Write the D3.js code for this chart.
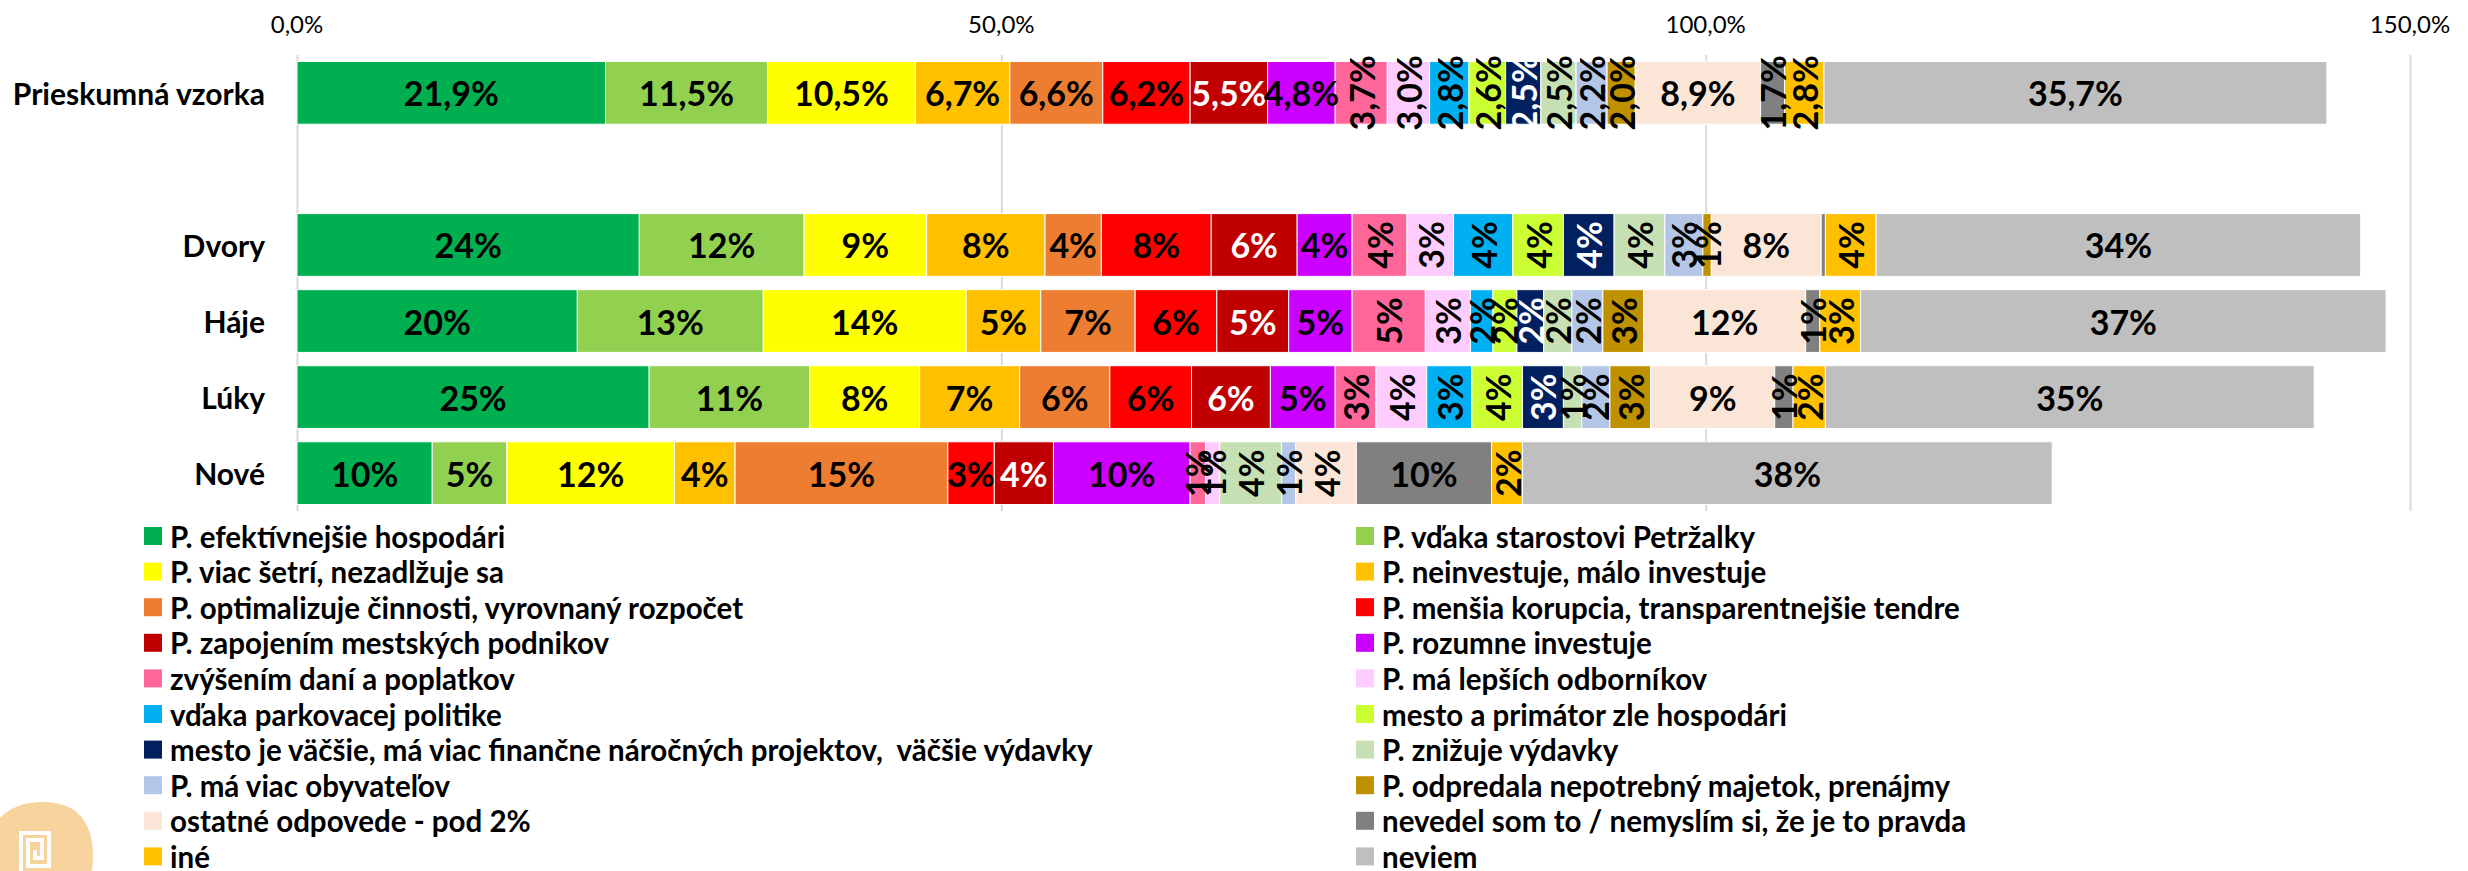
<!DOCTYPE html>
<html>
<head>
<meta charset="utf-8">
<script src="https://cdn.jsdelivr.net/npm/d3@7"></script>
<style>
  body { margin: 0; background: #fff; }
  svg { display: block; font-family: Lato, "Open Sans", sans-serif; }
  .gridlines line { stroke: #d9d9d9; stroke-width: 2; }
  .gridlines .domain { display: none; }
</style>
</head>
<body>
<div id="chart"></div>
<script>
// Categories (the empty slot keeps the gap under the total sample)
const categories = ['Prieskumná vzorka', '', 'Dvory', 'Háje', 'Lúky', 'Nové'];

// Answer series, in stacking order
const seriesNames = [
  'P. efektívnejšie hospodári',
  'P. vďaka starostovi Petržalky',
  'P. viac šetrí, nezadlžuje sa',
  'P. neinvestuje, málo investuje',
  'P. optimalizuje činnosti, vyrovnaný rozpočet',
  'P. menšia korupcia, transparentnejšie tendre',
  'P. zapojením mestských podnikov',
  'P. rozumne investuje',
  'zvýšením daní a poplatkov',
  'P. má lepších odborníkov',
  'vďaka parkovacej politike',
  'mesto a primátor zle hospodári',
  'mesto je väčšie, má viac finančne náročných projektov,  väčšie výdavky',
  'P. znižuje výdavky',
  'P. má viac obyvateľov',
  'P. odpredala nepotrebný majetok, prenájmy',
  'ostatné odpovede - pod 2%',
  'nevedel som to / nemyslím si, že je to pravda',
  'iné',
  'neviem'
];

const seriesColors = [
  '#00B050', '#92D050', '#FFFF00', '#FFC000', '#ED7D31',
  '#FF0000', '#C00000', '#CC00FF', '#FF6699', '#FFCCFF',
  '#00B0F0', '#CCFF33', '#002060', '#C6E0B4', '#B4C6E7',
  '#BF9000', '#FBE5D6', '#808080', '#FFC000', '#BFBFBF'
];

// Values in %, one array per category (same order as seriesNames)
const vzorka = [21.9, 11.5, 10.5, 6.7, 6.6, 6.2, 5.5, 4.8, 3.7, 3.0, 2.8, 2.6, 2.5, 2.5, 2.2, 2.0, 8.9, 1.7, 2.8, 35.7];
const dvory  = [24.3, 11.7, 8.7, 8.4, 4.0, 7.8, 6.1, 3.9, 3.9, 3.3, 4.2, 3.6, 3.6, 3.6, 2.7, 0.6, 7.8, 0.3, 3.6, 34.4];
const haje   = [19.9, 13.2, 14.4, 5.3, 6.7, 5.8, 5.1, 4.5, 5.2, 3.2, 1.6, 1.7, 1.9, 2.0, 2.2, 2.9, 11.5, 1.0, 2.9, 37.3];
const luky   = [25.0, 11.4, 7.8, 7.1, 6.4, 5.8, 5.6, 4.6, 2.9, 3.6, 3.2, 3.6, 2.9, 1.3, 2.0, 2.9, 8.8, 1.3, 2.3, 34.7];
const nove   = [9.6, 5.3, 11.9, 4.3, 15.1, 3.3, 4.2, 9.7, 1.1, 1.0, 0, 0, 0, 4.4, 1.0, 0, 4.3, 9.6, 2.2, 37.6];

const xTicks = [0, 50, 100, 150];

// Which series get white labels
const whiteLabelSeries = [6, 12];

const width = 2468;
const height = 871;

const plot = { left: 297, right: 2410, top: 55, bottom: 511 };

const rows = [
  { cat: 'Prieskumná vzorka', values: vzorka, decimals: true },
  { cat: 'Dvory', values: dvory },
  { cat: 'Háje', values: haje },
  { cat: 'Lúky', values: luky },
  { cat: 'Nové', values: nove }
];

const table = rows.map(r => {
  const o = { cat: r.cat, decimals: !!r.decimals };
  r.values.forEach((v, i) => { o['s' + i] = v; });
  return o;
});

const keys = seriesNames.map((d, i) => 's' + i);
const stacked = d3.stack().keys(keys)(table);

const svg = d3.select('#chart')
  .append('svg')
  .attr('width', width)
  .attr('height', height);

const xScale = d3.scaleLinear()
  .domain([0, 150])
  .range([plot.left, plot.right]);

const yScale = d3.scaleBand()
  .domain(categories.map((d, i) => i))
  .range([plot.top, plot.bottom])
  .paddingInner(0.175)
  .paddingOuter(0.085);

const catIndex = c => categories.indexOf(c);

// Gridlines
svg.append('g')
  .attr('class', 'gridlines')
  .attr('transform', `translate(0, ${plot.bottom})`)
  .call(d3.axisTop(xScale).tickValues(xTicks).tickFormat('').tickSize(plot.bottom - plot.top));

// Top axis labels
const fmtAxis = d => d3.format('.1f')(d).replace('.', ',') + '%';
svg.append('g')
  .selectAll('text')
  .data(xTicks)
  .join('text')
  .attr('x', d => xScale(d))
  .attr('y', 23)
  .attr('text-anchor', 'middle')
  .attr('dominant-baseline', 'central')
  .style('font-size', '24px')
  .style('fill', '#000')
  .text(fmtAxis);

// Category labels
svg.append('g')
  .selectAll('text')
  .data(categories.filter(c => c !== ''))
  .join('text')
  .attr('x', 265)
  .attr('y', d => yScale(catIndex(d)) + yScale.bandwidth() / 2)
  .attr('text-anchor', 'end')
  .attr('dominant-baseline', 'central')
  .style('font-size', '30px')
  .style('font-weight', 'bold')
  .text(d => d);

// Bars
const layers = svg.append('g')
  .selectAll('g')
  .data(stacked)
  .join('g')
  .attr('fill', (d, i) => seriesColors[i]);

layers.selectAll('rect')
  .data(d => d.filter(p => p[1] - p[0] > 0))
  .join('rect')
  .attr('x', d => xScale(d[0]))
  .attr('y', d => yScale(catIndex(d.data.cat)))
  .attr('width', d => xScale(d[1]) - xScale(d[0]))
  .attr('height', yScale.bandwidth())
  .attr('stroke', '#fff')
  .attr('stroke-width', 1);

// Data labels
const labelData = [];
stacked.forEach((layer, si) => {
  layer.forEach(p => {
    const v = p[1] - p[0];
    const txt = p.data.decimals
      ? d3.format('.1f')(v).replace('.', ',') + '%'
      : Math.round(v) + '%';
    if (Math.round(v * 10) === 0 || (!p.data.decimals && Math.round(v) === 0)) return;
    labelData.push({
      si, v, txt,
      cx: (xScale(p[0]) + xScale(p[1])) / 2,
      cy: yScale(catIndex(p.data.cat)) + yScale.bandwidth() / 2,
      rotate: si >= 8 && v < 6
    });
  });
});

svg.append('g')
  .selectAll('text')
  .data(labelData)
  .join('text')
  .attr('transform', d => `translate(${d.cx}, ${d.cy})` + (d.rotate ? ' rotate(-90)' : ''))
  .attr('text-anchor', 'middle')
  .attr('dominant-baseline', 'central')
  .style('font-size', '34px')
  .style('font-weight', 'bold')
  .style('fill', d => whiteLabelSeries.includes(d.si) ? '#fff' : '#000')
  .text(d => d.txt);

// Legend: two columns, filled row by row
const legend = svg.append('g')
  .selectAll('g')
  .data(seriesNames)
  .join('g')
  .attr('transform', (d, i) => {
    const col = i % 2;
    const row = Math.floor(i / 2);
    return `translate(${col === 0 ? 144 : 1356}, ${536 + row * 35.6})`;
  });

legend.append('rect')
  .attr('x', 0)
  .attr('y', -9)
  .attr('width', 18)
  .attr('height', 18)
  .attr('fill', (d, i) => seriesColors[i]);

legend.append('text')
  .attr('x', 26)
  .attr('y', 0)
  .attr('dominant-baseline', 'central')
  .style('font-size', '29.5px')
  .style('font-weight', 'bold')
  .style('white-space', 'pre')
  .text(d => d);

// Logo watermark, bottom left
const logo = svg.append('g').attr('transform', 'translate(0, 800)');
logo.append('path')
  .attr('d', 'M0,18 C14,2 44,-2 66,6 C88,14 96,40 92,71 L0,71 Z')
  .attr('fill', '#F7D39E');
logo.append('path')
  .attr('d', 'M21,71 L21,33 L49,33 L49,66 L28,66 L28,40 L42,40 L42,58 L35,58 L35,50')
  .attr('fill', 'none')
  .attr('stroke', '#fff')
  .attr('stroke-width', 4);
</script>
</body>
</html>
